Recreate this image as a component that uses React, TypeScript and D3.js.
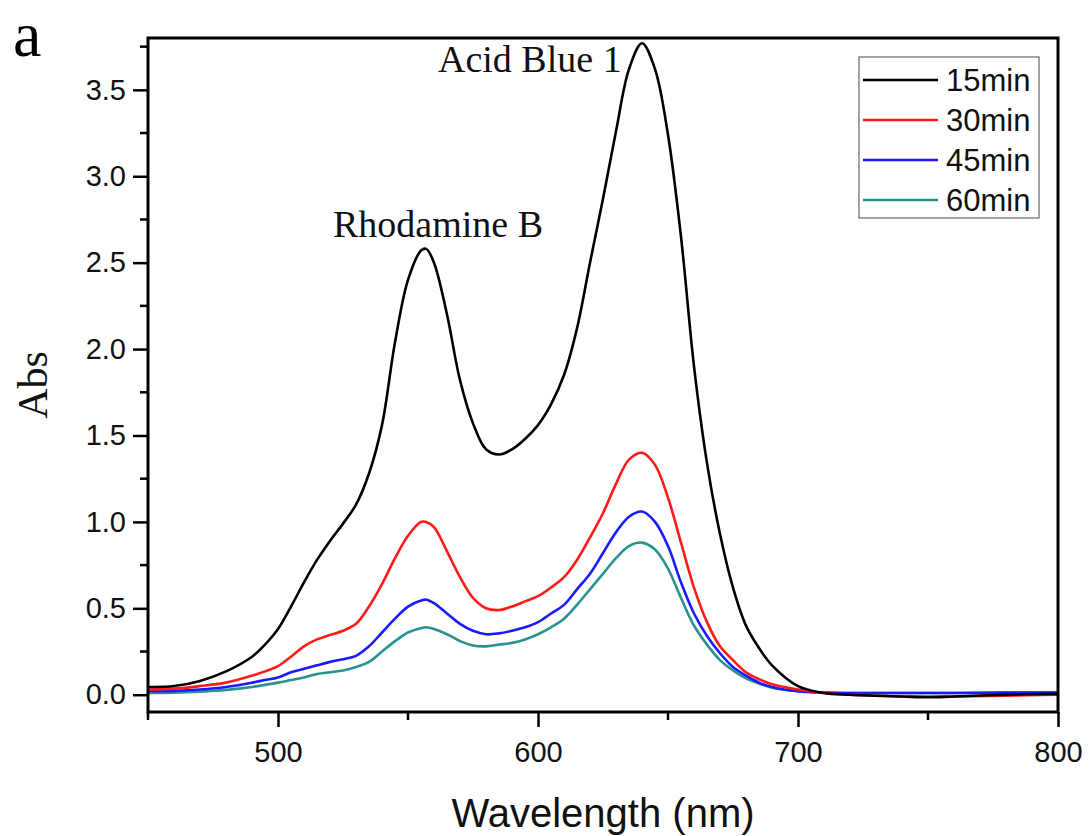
import React, { useEffect, useRef } from "react";
import * as d3 from "d3";

// wavelength grid (nm)
const wavelengths = [
  450, 460, 470, 480, 490, 495, 500, 505, 510, 515, 520, 525, 530, 535, 540, 545, 550, 555, 557, 560, 565,
  570, 575, 580, 585, 590, 595, 600, 605, 610, 615, 620, 625, 630, 635, 640, 645, 650, 655, 660, 665,
  670, 675, 680, 685, 690, 700, 710, 720, 740, 750, 760, 780, 800,
];

const abs15 = [
  0.045, 0.05, 0.08, 0.135, 0.22, 0.29, 0.38, 0.51, 0.65, 0.78, 0.89, 0.99, 1.1, 1.28, 1.56, 2.04, 2.4, 2.57, 2.58, 2.5, 2.2,
  1.82, 1.57, 1.42, 1.39, 1.42, 1.48, 1.56, 1.68, 1.85, 2.12, 2.5, 2.87, 3.26, 3.62, 3.77, 3.62, 3.24, 2.65, 1.9, 1.34,
  0.93, 0.62, 0.4, 0.27, 0.17, 0.05, 0.01, 0.0, -0.01, -0.015, -0.01, 0.0, 0.005,
];
const abs30 = [
  0.03, 0.035, 0.05, 0.07, 0.11, 0.135, 0.165, 0.22, 0.28, 0.32, 0.345, 0.37, 0.41, 0.51, 0.64, 0.79, 0.92, 1.0, 1.0, 0.97, 0.83,
  0.68, 0.56, 0.5, 0.49, 0.51, 0.54, 0.57, 0.62, 0.68, 0.78, 0.91, 1.05, 1.22, 1.36, 1.4, 1.33, 1.14, 0.88, 0.62, 0.42,
  0.28, 0.2, 0.13, 0.09, 0.06, 0.03, 0.01, 0.0, -0.01, -0.01, -0.01, -0.005, 0.0,
];
const abs45 = [
  0.02, 0.022, 0.03, 0.045, 0.07, 0.085, 0.1, 0.13, 0.15, 0.17, 0.19, 0.205, 0.225, 0.28, 0.36, 0.44, 0.51, 0.545, 0.55, 0.53, 0.47,
  0.41, 0.37, 0.35, 0.355, 0.37, 0.39, 0.42, 0.47, 0.52, 0.61, 0.7, 0.82, 0.94, 1.03, 1.06, 1.0, 0.86, 0.65, 0.47, 0.34,
  0.24, 0.16, 0.11, 0.07, 0.045, 0.02, 0.012, 0.01, 0.01, 0.01, 0.01, 0.012, 0.012,
];
const abs60 = [
  0.01, 0.012, 0.018, 0.028, 0.045, 0.057, 0.07, 0.085, 0.1, 0.12, 0.13, 0.14, 0.16, 0.19, 0.25, 0.31, 0.36, 0.385, 0.39, 0.38, 0.35,
  0.31, 0.285, 0.28, 0.29, 0.3, 0.32, 0.35, 0.39, 0.44, 0.52, 0.61, 0.7, 0.79, 0.86, 0.88, 0.84, 0.73, 0.56, 0.4, 0.29,
  0.2, 0.14, 0.095, 0.065, 0.04, 0.02, 0.012, 0.01, 0.01, 0.01, 0.01, 0.012, 0.012,
];

const seriesNames = ["15min", "30min", "45min", "60min"];
const seriesColors = ["#000000", "#ff1a1a", "#1a1aff", "#2a9191"];
const seriesValues = [abs15, abs30, abs45, abs60];

const xTicks = [500, 600, 700, 800];
const xMinor = [450, 550, 650, 750];
const yTicks = [0, 0.5, 1.0, 1.5, 2.0, 2.5, 3.0, 3.5];
const yMinor = [0.25, 0.75, 1.25, 1.75, 2.25, 2.75, 3.25, 3.75];

const W = 1091;
const H = 836;
const left = 148;
const right = 1058;
const top = 38;
const bottom = 712;

export default function App() {
  const ref = useRef<SVGSVGElement | null>(null);

  useEffect(() => {
    if (!ref.current) return;
    const svg = d3.select(ref.current);
    svg.selectAll("*").remove();

    const x = d3.scaleLinear().domain([450, 800]).range([left, right]);
    const y = d3.scaleLinear().domain([-0.1, 3.8]).range([bottom, top]);

    // curves
    const line = d3
      .line<number>()
      .x((_, i) => x(wavelengths[i]))
      .y((d) => y(d))
      .curve(d3.curveCatmullRom.alpha(0.5));

    // draw last series first so black ends on top
    seriesValues
      .map((vals, i) => ({ vals, i }))
      .reverse()
      .forEach(({ vals, i }) => {
        svg
          .append("path")
          .attr("d", line(vals))
          .attr("fill", "none")
          .attr("stroke", seriesColors[i])
          .attr("stroke-width", 2.6)
          .attr("stroke-linejoin", "round");
      });

    // x axis
    const xAxis = svg.append("g").attr("transform", `translate(0,${bottom})`);
    xAxis
      .call(d3.axisBottom(x).tickValues(xTicks).tickSize(15).tickSizeOuter(0).tickPadding(14).tickFormat(d3.format("d")))
      .call((g) => g.select(".domain").remove());
    xAxis.selectAll("line").attr("stroke", "#000").attr("stroke-width", 2.5);
    xAxis.selectAll("text").attr("font-family", "Liberation Sans, Arial, sans-serif").attr("font-size", 29).attr("fill", "#111");
    xAxis
      .selectAll(".minor")
      .data(xMinor)
      .enter()
      .append("line")
      .attr("x1", (d) => x(d))
      .attr("x2", (d) => x(d))
      .attr("y1", 0)
      .attr("y2", 8)
      .attr("stroke", "#000")
      .attr("stroke-width", 2.5);

    // y axis
    const yAxis = svg.append("g").attr("transform", `translate(${left},0)`);
    yAxis
      .call(d3.axisLeft(y).tickValues(yTicks).tickSize(15).tickSizeOuter(0).tickPadding(7).tickFormat(d3.format(".1f")))
      .call((g) => g.select(".domain").remove());
    yAxis.selectAll("line").attr("stroke", "#000").attr("stroke-width", 2.5);
    yAxis.selectAll("text").attr("font-family", "Liberation Sans, Arial, sans-serif").attr("font-size", 29).attr("fill", "#111");
    yAxis
      .selectAll(".minor")
      .data(yMinor)
      .enter()
      .append("line")
      .attr("x1", -8)
      .attr("x2", 0)
      .attr("y1", (d) => y(d))
      .attr("y2", (d) => y(d))
      .attr("stroke", "#000")
      .attr("stroke-width", 2.5);

    // frame
    svg
      .append("rect")
      .attr("x", left)
      .attr("y", top)
      .attr("width", right - left)
      .attr("height", bottom - top)
      .attr("fill", "none")
      .attr("stroke", "#000")
      .attr("stroke-width", 3);

    // legend
    const lg = svg.append("g");
    lg.append("rect")
      .attr("x", 859)
      .attr("y", 57)
      .attr("width", 180)
      .attr("height", 161)
      .attr("fill", "#fff")
      .attr("stroke", "#666")
      .attr("stroke-width", 1.2);
    seriesNames.forEach((name, i) => {
      const cy = 80 + i * 40;
      lg.append("line")
        .attr("x1", 863)
        .attr("x2", 938)
        .attr("y1", cy)
        .attr("y2", cy)
        .attr("stroke", seriesColors[i])
        .attr("stroke-width", 2.6);
      lg.append("text")
        .attr("x", 946)
        .attr("y", cy + 11)
        .attr("font-family", "Liberation Sans, Arial, sans-serif")
        .attr("font-size", 31)
        .attr("fill", "#111")
        .text(name);
    });

    // annotations
    svg
      .append("text")
      .attr("x", 438)
      .attr("y", 72)
      .attr("font-family", "Liberation Serif, Times New Roman, serif")
      .attr("font-size", 38)
      .attr("fill", "#111")
      .text("Acid Blue 1");
    svg
      .append("text")
      .attr("x", 333)
      .attr("y", 237)
      .attr("font-family", "Liberation Serif, Times New Roman, serif")
      .attr("font-size", 38)
      .attr("fill", "#111")
      .text("Rhodamine B");

    // axis titles
    svg
      .append("text")
      .attr("x", (left + right) / 2)
      .attr("y", 827)
      .attr("text-anchor", "middle")
      .attr("font-family", "Liberation Sans, Arial, sans-serif")
      .attr("font-size", 40)
      .attr("fill", "#111")
      .text("Wavelength (nm)");
    svg
      .append("text")
      .attr("transform", "translate(47,385) rotate(-90)")
      .attr("text-anchor", "middle")
      .attr("font-family", "Liberation Serif, Times New Roman, serif")
      .attr("font-size", 42)
      .attr("fill", "#111")
      .text("Abs");

    // panel label
    svg
      .append("text")
      .attr("x", 13)
      .attr("y", 56)
      .attr("font-family", "Liberation Serif, Times New Roman, serif")
      .attr("font-size", 64)
      .attr("fill", "#000")
      .text("a");
  }, []);

  return (
    <svg
      ref={ref}
      width={W}
      height={H}
      style={{ position: "absolute", left: 0, top: 0, background: "#fff" }}
    />
  );
}
